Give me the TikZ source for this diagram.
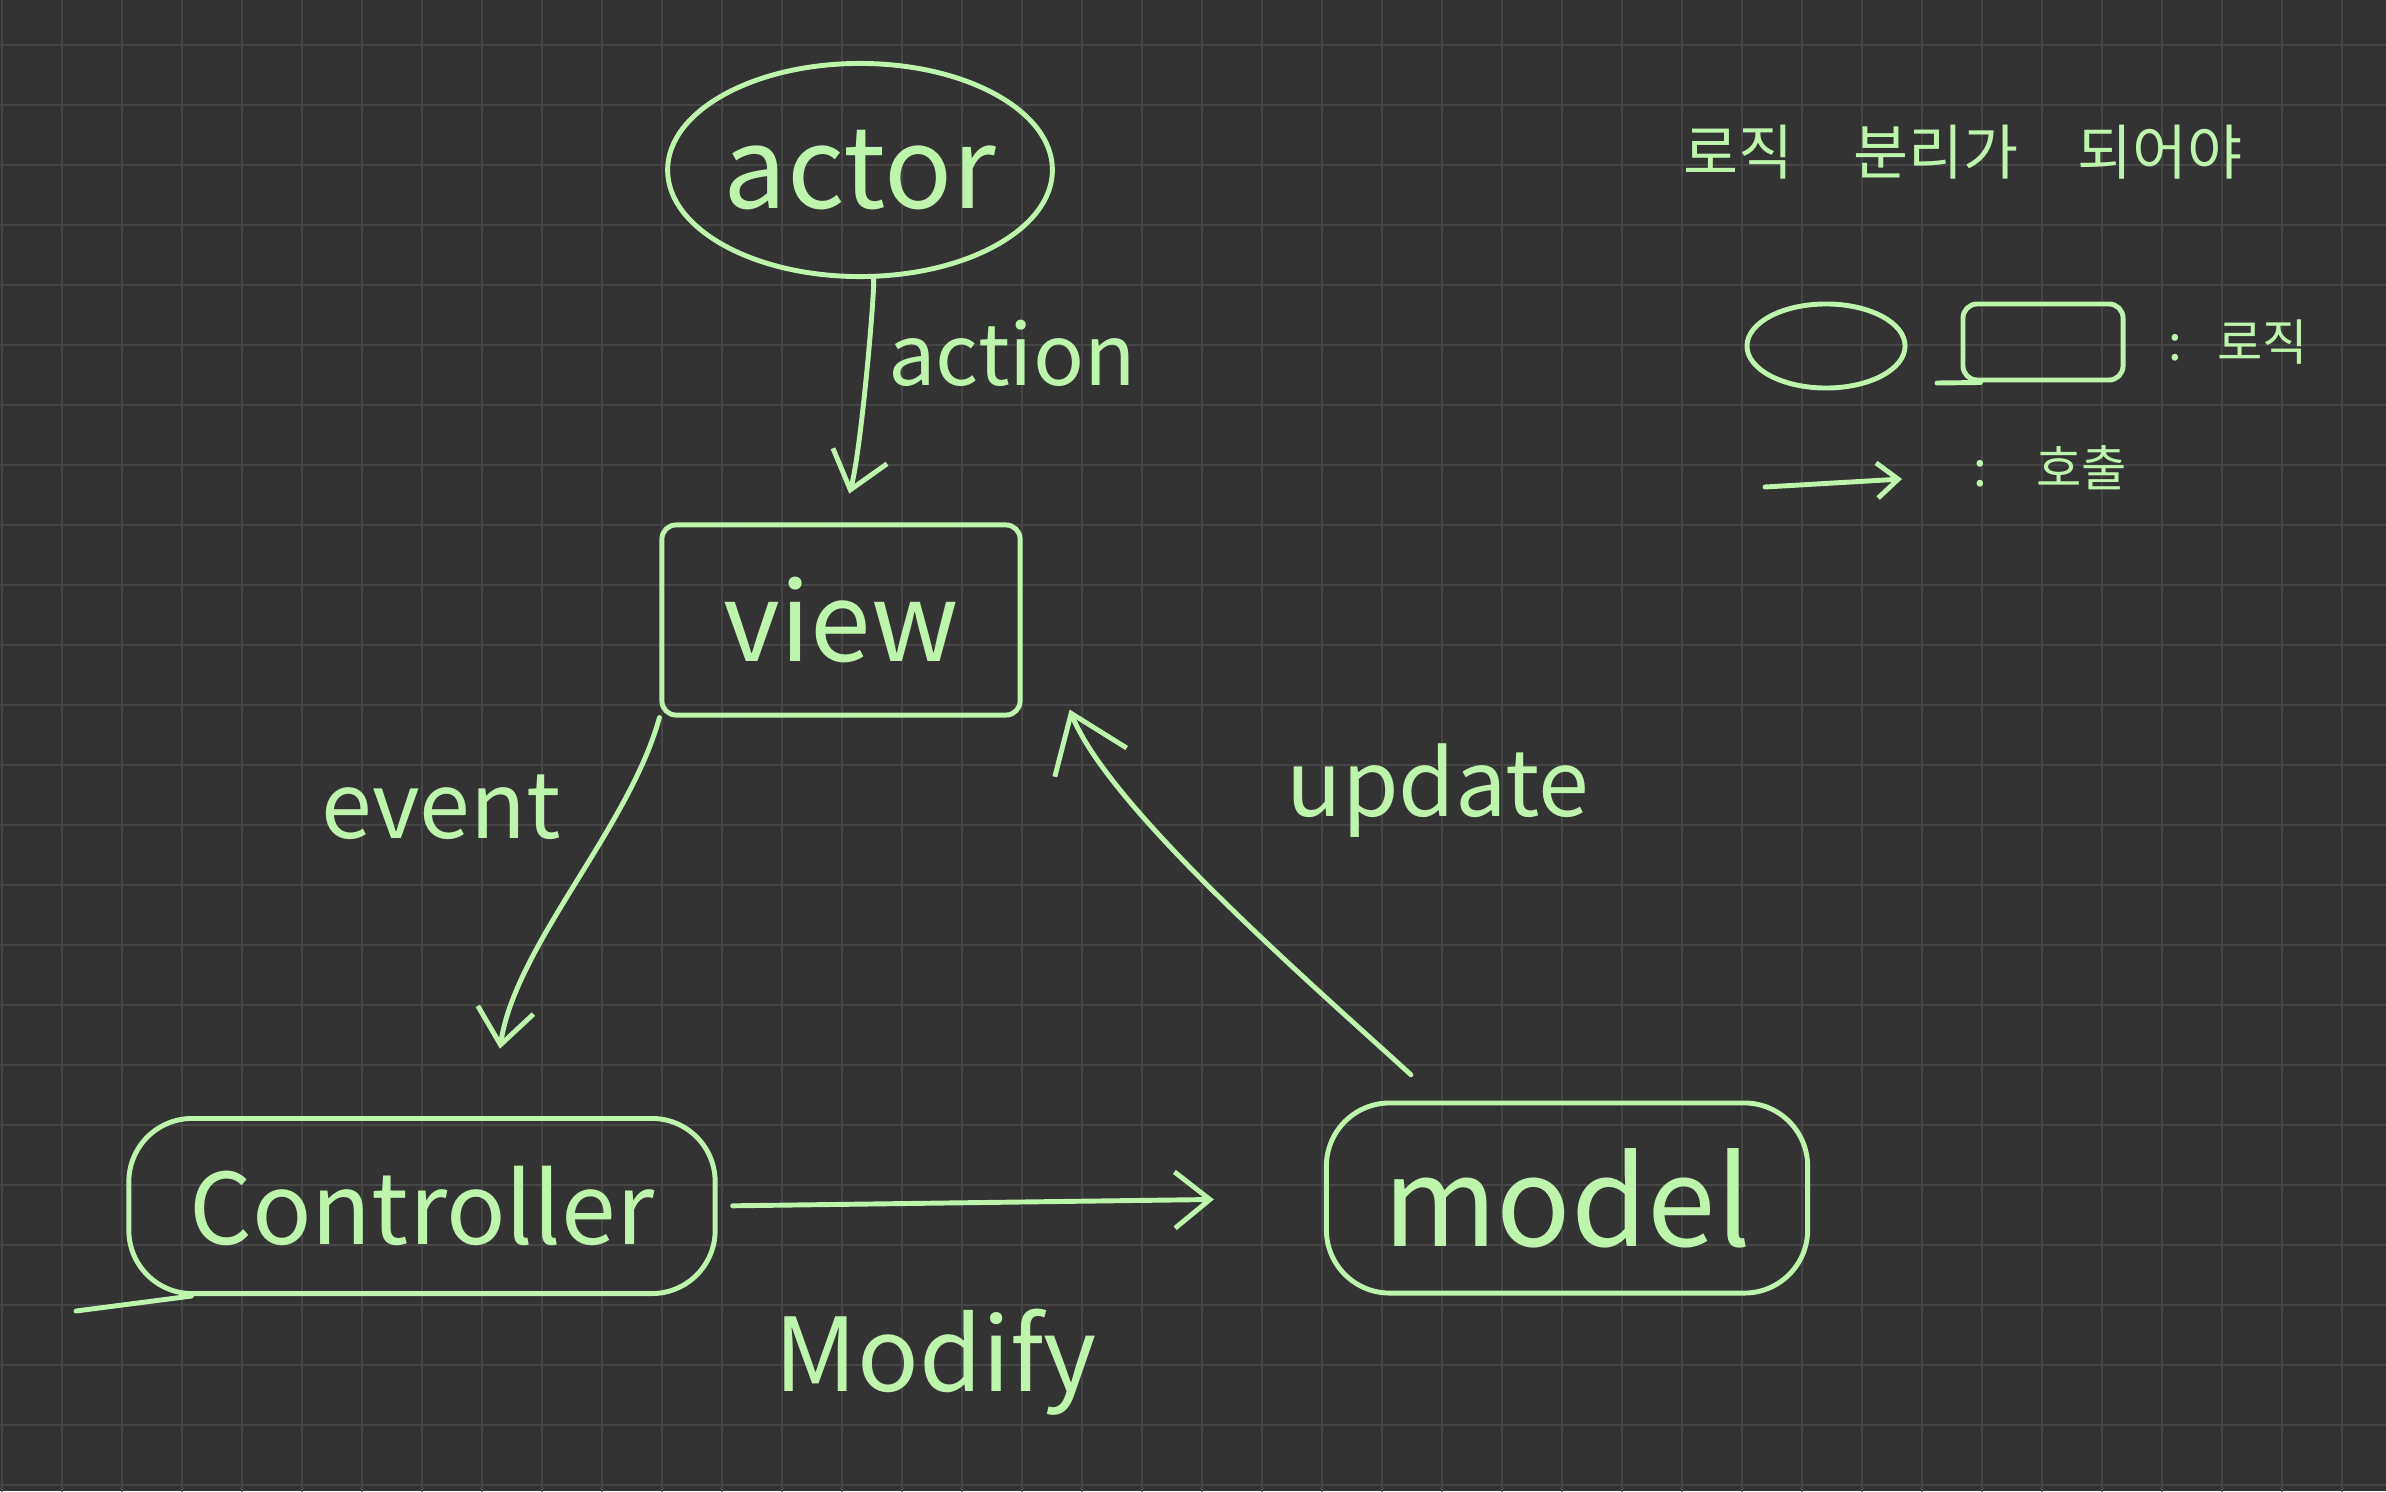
\documentclass[tikz,border=0pt]{standalone}
\usepackage{fontspec}
\setmainfont{Noto Sans CJK KR}
\definecolor{BoardGray}{RGB}{51, 51, 51}
\definecolor{GridGray}{RGB}{70, 70, 70}
\definecolor{ChalkGreen}{RGB}{190, 245, 172}
\usetikzlibrary{shapes,arrows.meta,positioning,calc}
\newcommand\hand[1]{\fontsize{#1pt}{#1pt}\selectfont}
\tikzset{
  logic/.style={draw=ChalkGreen, line width=1.4pt, text=ChalkGreen, inner sep=0pt},
  note/.style={text=ChalkGreen, inner sep=0pt},
  call/.style={draw=ChalkGreen, line width=1.4pt, -{Straight Barb[length=10pt,width=16pt]}},
  gridline/.style={draw=GridGray, line width=0.6pt}
}

\begin{document}
\begin{tikzpicture}[x=0.01cm, y=-0.01cm, line cap=round, line join=round]
      \fill[BoardGray] (0,0) rectangle (2386,1491);
      \useasboundingbox (0,0) rectangle (2386,1491);
      \foreach \gx in {2,62,...,2386} \draw[gridline] (\gx,0) -- (\gx,1491);
      \foreach \gy in {45,105,...,1491} \draw[gridline] (0,\gy) -- (2386,\gy);

      % MVC parts
      \node[logic, ellipse, minimum width=3.65cm, minimum height=2.13cm, font=\hand{32}] (actor) at (860,170) {actor};
      \node[logic, rounded corners=4pt, minimum width=3.58cm, minimum height=1.90cm, font=\hand{31}] (view) at (841,620) {view};
      \node[logic, rounded corners=18pt, minimum width=5.86cm, minimum height=1.75cm, font=\hand{28}] (controller) at (422,1206) {Controller};
      \node[logic, rounded corners=18pt, minimum width=4.81cm, minimum height=1.90cm, font=\hand{35}] (model) at (1567,1198) {model};
      \draw[logic] ([xshift=0.65cm]controller.south west) -- (76,1311);

      \foreach \lbl/\txt/\xpos/\ypos/\sz in {action/action/1012/353/24, event/event/441/807/26, update/update/1438/791/26, modify/Modify/936/1362/29} {
        \node[note, font=\hand{\sz}] (\lbl) at (\xpos,\ypos) {\txt};
      }

      \draw[call, shorten >=0.3cm] (actor) .. controls +(15,120) and +(20,-70) .. (view.north);
      \draw[call, shorten >=0.68cm] (view.south west) .. controls +(-30,110) and +(25,-170) .. ([xshift=0.68cm]controller.north);
      \draw[call, shorten <=0.38cm, -{Straight Barb[length=15pt,width=22pt]}] ([xshift=1.15cm]model.north west) .. controls +(-120,-110) and +(40,100) .. ([xshift=0.47cm,yshift=0.08cm]view.south east);
      \draw[call, shorten <=0.15cm, shorten >=1.1cm] (controller.east) -- (model.west);

      % legend
      \node[note, font=\hand{17}] (title) at (1963,152) {로직\quad 분리가\quad 되어야};
      \node[logic, ellipse, minimum width=1.58cm, minimum height=0.84cm] (legoval) at (1826,346) {};
      \node[logic, rounded corners=4pt, minimum width=1.6cm, minimum height=0.76cm] (legbox) at (2043,342) {};
      \draw[logic] ([xshift=0.2cm]legbox.south west) -- (1937,383);
      \node[note, font=\hand{14}, right=0.42cm of legbox] (logictext) {:\hspace{10pt}로직};
      \coordinate (callfrom) at (1765,487);
      \coordinate (callto) at (1902,479);
      \draw[call, -{Straight Barb[length=6pt,width=10pt]}] (callfrom) -- (callto);
      \node[note, font=\hand{14}] (calltext) at (2050,468) {:\hspace{14pt}호출};
    \end{tikzpicture}
\end{document}
